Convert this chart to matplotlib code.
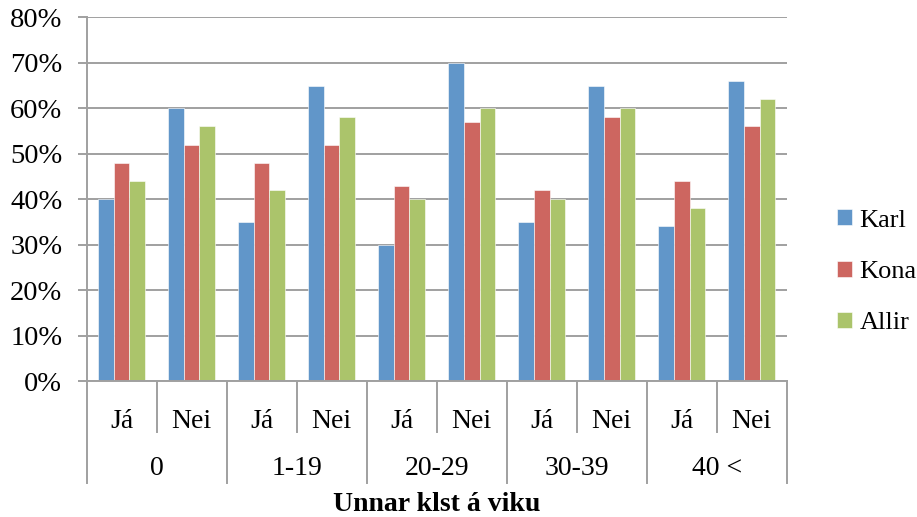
import numpy as np
import matplotlib
matplotlib.use("Agg")
from matplotlib import pyplot as plt
from matplotlib.patches import Patch
import matplotlib.transforms as mtransforms

plt.rcParams['font.family'] = ['Liberation Serif', 'DejaVu Serif']

# Hópar (klst á viku) og undirflokkar
groups = ["0", "1-19", "20-29", "30-39", "40 <"]
answers = ["Já", "Nei"]
series_names = ["Karl", "Kona", "Allir"]

karl = [40, 60, 35, 65, 30, 70, 35, 65, 34, 66]
kona = [48, 52, 48, 52, 43, 57, 42, 58, 44, 56]
allir = [44, 56, 42, 58, 40, 60, 40, 60, 38, 62]

colors = ["#6196C9", "#CD6660", "#ABC46B"]
grid_col = "#A0A0A0"

fig = plt.figure(figsize=(9.17, 5.17), dpi=100)
ax = fig.add_axes([0.0945, 0.263, 0.7635, 0.7035])

n = len(groups) * len(answers)
x = np.arange(n)
w = 1 / 4.5
for k, (vals, col) in enumerate(zip([karl, kona, allir], colors)):
    ax.bar(x + (k - 1) * w, vals, width=w, color=col, edgecolor="white",
           linewidth=0.4, zorder=3)

ax.set_xlim(-0.5, n - 0.5)
ax.set_ylim(0, 80)
ax.set_yticks(np.arange(0, 81, 10))
ax.set_yticklabels([f"{v}%" for v in range(0, 81, 10)], fontsize=20.5)
ax.yaxis.grid(True, color=grid_col, linewidth=1.4, zorder=0)
ax.tick_params(axis="y", length=6.5, width=1.4, color=grid_col, pad=11)

for s in ["top", "right"]:
    ax.spines[s].set_visible(False)
for s in ["left", "bottom"]:
    ax.spines[s].set_color(grid_col)
    ax.spines[s].set_linewidth(1.4)
ax.spines["left"].set_zorder(4)
ax.spines["bottom"].set_zorder(4)

# fyrsta stig: Já / Nei
ax.set_xticks(x)
ax.set_xticklabels(answers * len(groups), fontsize=20)
ax.tick_params(axis="x", length=0, pad=20)

# skilalínur og hópamerki fyrir neðan ásinn
trans = mtransforms.blended_transform_factory(ax.transData, ax.transAxes)
ax_h_px = 0.7035 * 517
short = -51 / ax_h_px
long_ = -102 / ax_h_px
for b in np.arange(-0.5, n, 1.0):
    idx = int(b + 0.5)
    y_end = long_ if idx % 2 == 0 else short
    ax.plot([b, b], [0, y_end], transform=trans, color=grid_col,
            linewidth=1.4, clip_on=False)

for g, name in enumerate(groups):
    ax.text(2 * g + 0.5, -87 / ax_h_px, name, transform=trans, fontsize=20,
            ha="center", va="center")

ax.text((n - 1) / 2, -123 / ax_h_px, "Unnar klst á viku", transform=trans,
        fontsize=20, fontweight="bold", ha="center", va="center")

handles = [Patch(facecolor=c, edgecolor="white", linewidth=0.4) for c in colors]
fig.legend(handles, series_names, loc="center left",
           bbox_to_anchor=(0.9128, 0.474), frameon=False, fontsize=19,
           handlelength=0.55, handleheight=0.55, handletextpad=0.3,
           labelspacing=1.1, borderaxespad=0, borderpad=0)

fig.savefig("out.png", dpi=100)
